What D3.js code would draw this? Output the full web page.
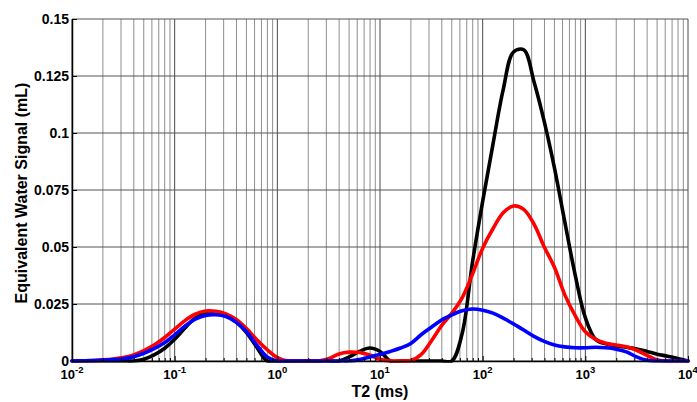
<!DOCTYPE html>
<html><head><meta charset="utf-8">
<script src="https://cdn.jsdelivr.net/npm/d3@7/dist/d3.min.js"></script>
<style>body{margin:0;background:#fff}svg{display:block}text{font-family:"Liberation Sans",Arial,Helvetica,sans-serif;font-weight:bold}</style>
</head><body><svg id="c" width="697" height="402"></svg>
<script>
// log10(T2 in ms)
const log10T2 = [-2.0,-1.9,-1.8,-1.7,-1.6,-1.5,-1.4,-1.3,-1.2,-1.1,-1.0,-0.9,-0.8,-0.7,-0.6,-0.5,-0.4,-0.3,-0.2,-0.1,
 0.0,0.1,0.2,0.3,0.4,0.5,0.6,0.7,0.8,0.9,1.0,1.1,1.2,1.3,1.4,1.5,1.6,1.7,1.8,1.9,
 2.0,2.1,2.2,2.3,2.4,2.5,2.6,2.7,2.8,2.9,3.0,3.1,3.2,3.3,3.4,3.5,3.6,3.7,3.8,3.9,4.0];
const blackSeries = [0,0,0,0,0,0,0,0.0008,0.0027,0.0055,0.0095,0.0145,0.0188,0.0212,0.0214,0.0202,0.0172,0.0125,0.006,0,
 0,0,0,0,0,0,0,0.0018,0.0042,0.0057,0.0042,0,0,0,0,0,0,0,0.012,0.043,
 0.070,0.095,0.119,0.1355,0.1365,0.1225,0.105,0.0845,0.061,0.038,0.019,0.0095,0.0075,0.0066,0.006,0.0053,0.0042,0.003,0.0021,0.0011,0];
const redSeries = [0,0.0001,0.0002,0.0005,0.0009,0.0015,0.0027,0.0046,0.007,0.0102,0.014,0.0177,0.0205,0.0219,0.0218,0.0207,0.0182,0.0142,0.0093,0.005,
 0.0015,0,0,0,0,0.001,0.0031,0.0039,0.0037,0.0026,0.0008,0,0,0.0002,0.0028,0.0088,0.0155,0.021,0.0277,0.038,
 0.0495,0.058,0.065,0.068,0.0665,0.06,0.05,0.041,0.029,0.02,0.0128,0.0095,0.0078,0.007,0.0062,0.0047,0.0025,0.0004,0,0,0];
const blueSeries = [0,0.0001,0.0002,0.0004,0.0006,0.001,0.0019,0.0034,0.0054,0.008,0.0115,0.0153,0.0184,0.02,0.0203,0.0195,0.017,0.0128,0.007,0.0018,
 0,0,0,0,0,0,0,0,0.0006,0.0018,0.0029,0.0042,0.0057,0.0077,0.0115,0.0148,0.018,0.0202,0.022,0.0228,
 0.0223,0.021,0.0188,0.0163,0.0136,0.0108,0.0086,0.007,0.0062,0.0058,0.0058,0.006,0.0058,0.0052,0.004,0.0018,0.0003,0,0,0,0];
const yTicks = [0,0.025,0.05,0.075,0.1,0.125,0.15];
const yTickLabels = ["0","0.025","0.05","0.075","0.1","0.125","0.15"];
const xMajorExps = [-2,-1,0,1,2,3,4];

const svg = d3.select("#c");
const L=72,R=688,T=19,B=361;
const x = d3.scaleLog().domain([0.01,10000]).range([L,R]);
const y = d3.scaleLinear().domain([0,0.15]).range([B,T]);

const allTicks = x.ticks();
const isMajor = v => Math.abs(Math.log10(v)-Math.round(Math.log10(v)))<1e-9;
const minorTicks = allTicks.filter(v=>!isMajor(v));
const majorTicks = xMajorExps.map(e=>Math.pow(10,e));

svg.append("defs").append("clipPath").attr("id","clip").append("rect")
  .attr("x",L-3).attr("y",T-5).attr("width",R-L+6).attr("height",B-T+6.8);

// grid
const g = svg.append("g");
g.selectAll("line.vmin").data(minorTicks).join("line")
 .attr("x1",d=>x(d)).attr("x2",d=>x(d)).attr("y1",T).attr("y2",B)
 .attr("stroke","#8e8e8e").attr("stroke-width",1);
g.selectAll("line.vmaj").data(majorTicks).join("line")
 .attr("x1",d=>x(d)).attr("x2",d=>x(d)).attr("y1",T).attr("y2",B)
 .attr("stroke","#4a4a4a").attr("stroke-width",1);
g.selectAll("line.h").data(yTicks).join("line")
 .attr("x1",L).attr("x2",R).attr("y1",d=>y(d)).attr("y2",d=>y(d))
 .attr("stroke","#555").attr("stroke-width",1);

// curves
const line = d3.line().x((d,i)=>x(Math.pow(10,log10T2[i]))).y(d=>y(d)).curve(d3.curveCatmullRom.alpha(0.5));
const cg = svg.append("g").attr("clip-path","url(#clip)");
[[blackSeries,"#000"],[redSeries,"#ff0000"],[blueSeries,"#0000ff"]].forEach(([s,c])=>{
  cg.append("path").attr("d",line(s)).attr("fill","none").attr("stroke",c)
   .attr("stroke-width",3.6).attr("stroke-linejoin","round").attr("stroke-linecap","round");
});

// axes
const yAxis = d3.axisLeft(y).tickValues(yTicks).tickFormat((d,i)=>yTickLabels[i])
  .tickSizeInner(-5).tickSizeOuter(0).tickPadding(3);
const ya = svg.append("g").attr("transform",`translate(${L},0)`).call(yAxis);
ya.select(".domain").attr("stroke","#000").attr("stroke-width",1.5);
ya.selectAll(".tick line").attr("stroke","#000");
ya.selectAll("text").attr("font-size",14).attr("font-weight","bold").attr("fill","#000")
  .style("font-family",'"Liberation Sans",Arial,sans-serif');

const xAxisMin = d3.axisBottom(x).tickValues(minorTicks).tickFormat("").tickSizeInner(-3).tickSizeOuter(0);
const xa2 = svg.append("g").attr("transform",`translate(0,${B})`).call(xAxisMin);
xa2.select(".domain").remove();
const xAxis = d3.axisBottom(x).tickValues(majorTicks).tickFormat("").tickSizeInner(-5).tickSizeOuter(0);
const xa = svg.append("g").attr("transform",`translate(0,${B})`).call(xAxis);
xa.select(".domain").attr("stroke","#000").attr("stroke-width",1.5);

const lab = svg.append("g");
xMajorExps.forEach(e=>{
  const t = lab.append("text").attr("x",x(Math.pow(10,e))).attr("y",379).attr("text-anchor","middle")
   .attr("font-size",13).attr("fill","#000");
  t.append("tspan").text("10");
  t.append("tspan").attr("font-size",9.5).attr("dy",-6).text(String(e));
});

svg.append("text").attr("x",380).attr("y",397).attr("text-anchor","middle")
  .attr("font-size",16).text("T2 (ms)");
svg.append("text").attr("transform","translate(27,193) rotate(-90)").attr("text-anchor","middle")
  .attr("font-size",16).text("Equivalent Water Signal (mL)");
</script></body></html>
